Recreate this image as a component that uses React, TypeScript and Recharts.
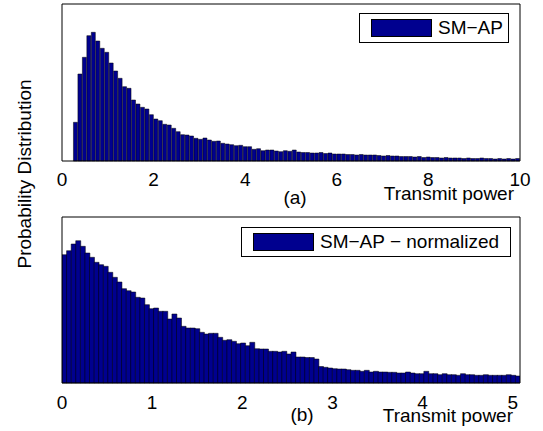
import React from "react";
import { BarChart, Bar, XAxis, YAxis, Legend, Label } from "recharts";

// histogram (a): 100 bins of width 0.0975 starting at 0.25
const TOP_BIN_START = 0.25;
const TOP_BIN_WIDTH = 0.0975;
const TOP_FREQ = [
  38.7, 87, 103.7, 125.3, 128.7, 120, 112.7, 108.7, 98, 90,
  82.7, 74.3, 72.7, 61, 57, 53.7, 52, 46.3, 42, 40.3,
  36.7, 36, 32.7, 29.3, 26.3, 26, 25, 22.7, 21.7, 23,
  21, 19.7, 20, 17.7, 17, 16.3, 15.3, 15.7, 14.3, 14.3,
  11.7, 12.3, 10.3, 11, 11, 10, 9.3, 10.3, 9.7, 11,
  9, 8.5, 8.5, 8, 8, 8.5, 7.5, 8, 7, 7,
  7, 6.5, 6.5, 6, 6.5, 6, 6, 6, 5.5, 5,
  5.5, 5, 5, 4.5, 4.5, 4.5, 4, 4.5, 3.5, 4,
  3.5, 3.5, 3, 3.5, 3, 3, 3, 2.5, 3, 2.5,
  2.5, 3, 2.5, 2.5, 2, 2.5, 2, 2.5, 2, 2.5,
];
const TOP_TICKS = [0, 2, 4, 6, 8, 10];
const TOP_DOMAIN = [0, 10];
const TOP_Y_MAX = 157;

// histogram (b): 100 bins of width 0.0508 starting at 0
const BOTTOM_BIN_START = 0;
const BOTTOM_BIN_WIDTH = 0.0508;
const BOTTOM_FREQ = [
  128.3, 132.3, 139, 142.3, 136.7, 130, 125.7, 120.7, 118.3, 116.7,
  110.7, 105.7, 101, 94.3, 92.3, 91, 85.7, 85, 78.3, 74.3,
  75, 71.7, 71.7, 64, 69, 65, 56.7, 55, 55, 54.3,
  50.7, 49, 49.7, 49.7, 45.7, 42.7, 43.3, 41.7, 39.3, 40,
  37.3, 40.7, 34.3, 34, 34, 31.7, 31.7, 31, 31.7, 29,
  31, 26, 26, 25.5, 25.5, 24, 16.5, 15.7, 15, 14.3,
  14, 14, 13.3, 12.7, 12.7, 11.7, 12.7, 11, 11.7, 11,
  11, 10.7, 10.7, 10, 10, 11, 10, 9.3, 9.3, 11.7,
  9.3, 9.3, 8.3, 9.3, 8.3, 8.3, 7.7, 9.3, 8.3, 8.3,
  7.7, 7.7, 8.3, 7.7, 7.7, 7.7, 7.7, 8.3, 7.7, 7,
];
const BOTTOM_TICKS = [0, 1, 2, 3, 4, 5];
const BOTTOM_DOMAIN = [0, 5.08];
const BOTTOM_Y_MAX = 166;

const topData = TOP_FREQ.map((p, i) => ({ x: TOP_BIN_START + TOP_BIN_WIDTH * (i + 0.5), p }));
const bottomData = BOTTOM_FREQ.map((p, i) => ({ x: BOTTOM_BIN_START + BOTTOM_BIN_WIDTH * (i + 0.5), p }));

const BAR_FILL = "#00008F";
const FONT = 19;

function BoxLegend({ payload, width }: { payload?: { value: string }[]; width: number }) {
  const item = payload?.[0];
  return (
    <div
      style={{
        boxSizing: "border-box", width, height: 30, border: "1px solid #000",
        background: "#fff", display: "flex", alignItems: "center", paddingLeft: 11,
      }}
    >
      <span
        style={{
          display: "inline-block", width: 61, height: 18, background: BAR_FILL,
          border: "1px solid #000", boxSizing: "border-box", flex: "none",
        }}
      />
      <span style={{ marginLeft: 6, fontSize: FONT, color: "#000", whiteSpace: "nowrap" }}>
        {item?.value}
      </span>
    </div>
  );
}

function Hist({ data, domain, ticks, yMax, height, margin, axisHeight, tickMargin, name, tag, tagOffset, tagDx, titleDy, titleDx, legendBox }: any) {
  return (
    <BarChart width={543} height={height} data={data} margin={margin} barCategoryGap={0} barGap={0}>
      <XAxis
        dataKey="x" type="number" domain={domain} ticks={ticks} interval={0}
        allowDataOverflow height={axisHeight} tickLine={false} tickSize={0} tickMargin={tickMargin}
        axisLine={{ stroke: "#000" }} tick={{ fill: "#000", fontSize: FONT }}
      >
        <Label value={tag} position="insideBottom" offset={tagOffset} dx={tagDx} fill="#000" fontSize={FONT} />
        <Label value="Transmit power" position="insideBottomRight" offset={5} dx={titleDx} dy={titleDy} fill="#000" fontSize={FONT} />
      </XAxis>
      <XAxis
        xAxisId="top" orientation="top" type="number" domain={domain} ticks={ticks} interval={0}
        height={1} tick={false} tickSize={-4} tickLine={{ stroke: "#000" }} axisLine={{ stroke: "#000" }}
      />
      <YAxis domain={[0, yMax]} tick={false} width={1} tickLine={false} axisLine={{ stroke: "#000" }} />
      <YAxis yAxisId="right" orientation="right" domain={[0, yMax]} tick={false} width={1} tickLine={false} axisLine={{ stroke: "#000" }} />
      <Legend
        layout="horizontal" verticalAlign="middle" align="center"
        wrapperStyle={{ left: legendBox.left, top: legendBox.top, width: legendBox.width, height: 30 }}
        content={(props: any) => <BoxLegend payload={props.payload} width={legendBox.width} />}
      />
      <Bar dataKey="p" name={name} fill={BAR_FILL} stroke="#000" strokeWidth={0.5} isAnimationActive={false} />
    </BarChart>
  );
}

export default function App() {
  return (
    <div
      style={{
        position: "absolute", left: 0, top: 0, width: 543, height: 431, background: "#fff",
        fontFamily: '"Liberation Sans", Arial, Helvetica, sans-serif', overflow: "hidden",
      }}
    >
      <div style={{ position: "absolute", left: 0, top: 0 }}>
        <Hist
          data={topData} domain={TOP_DOMAIN} ticks={TOP_TICKS} yMax={TOP_Y_MAX}
          height={215} margin={{ top: 3, right: 22, bottom: 0, left: 61 }} axisHeight={54}
          tickMargin={12} name="SM−AP" tag="(a)" tagOffset={11} tagDx={4}
          titleDx={-1} titleDy={-10} legendBox={{ left: 359, top: 13, width: 150 }}
        />
      </div>
      <div style={{ position: "absolute", left: 0, top: 215 }}>
        <Hist
          data={bottomData} domain={BOTTOM_DOMAIN} ticks={BOTTOM_TICKS} yMax={BOTTOM_Y_MAX}
          height={216} margin={{ top: 1, right: 22, bottom: 0, left: 61 }} axisHeight={48}
          tickMargin={13} name="SM−AP − normalized" tag="(b)" tagOffset={10} tagDx={11}
          titleDx={-2} titleDy={-4} legendBox={{ left: 241, top: 12, width: 270 }}
        />
      </div>
      <div
        style={{
          position: "absolute", left: 25, top: 174, transform: "translate(-50%, -50%) rotate(-90deg)",
          fontSize: FONT, color: "#000", whiteSpace: "nowrap",
        }}
      >
        Probability Distribution
      </div>
    </div>
  );
}
